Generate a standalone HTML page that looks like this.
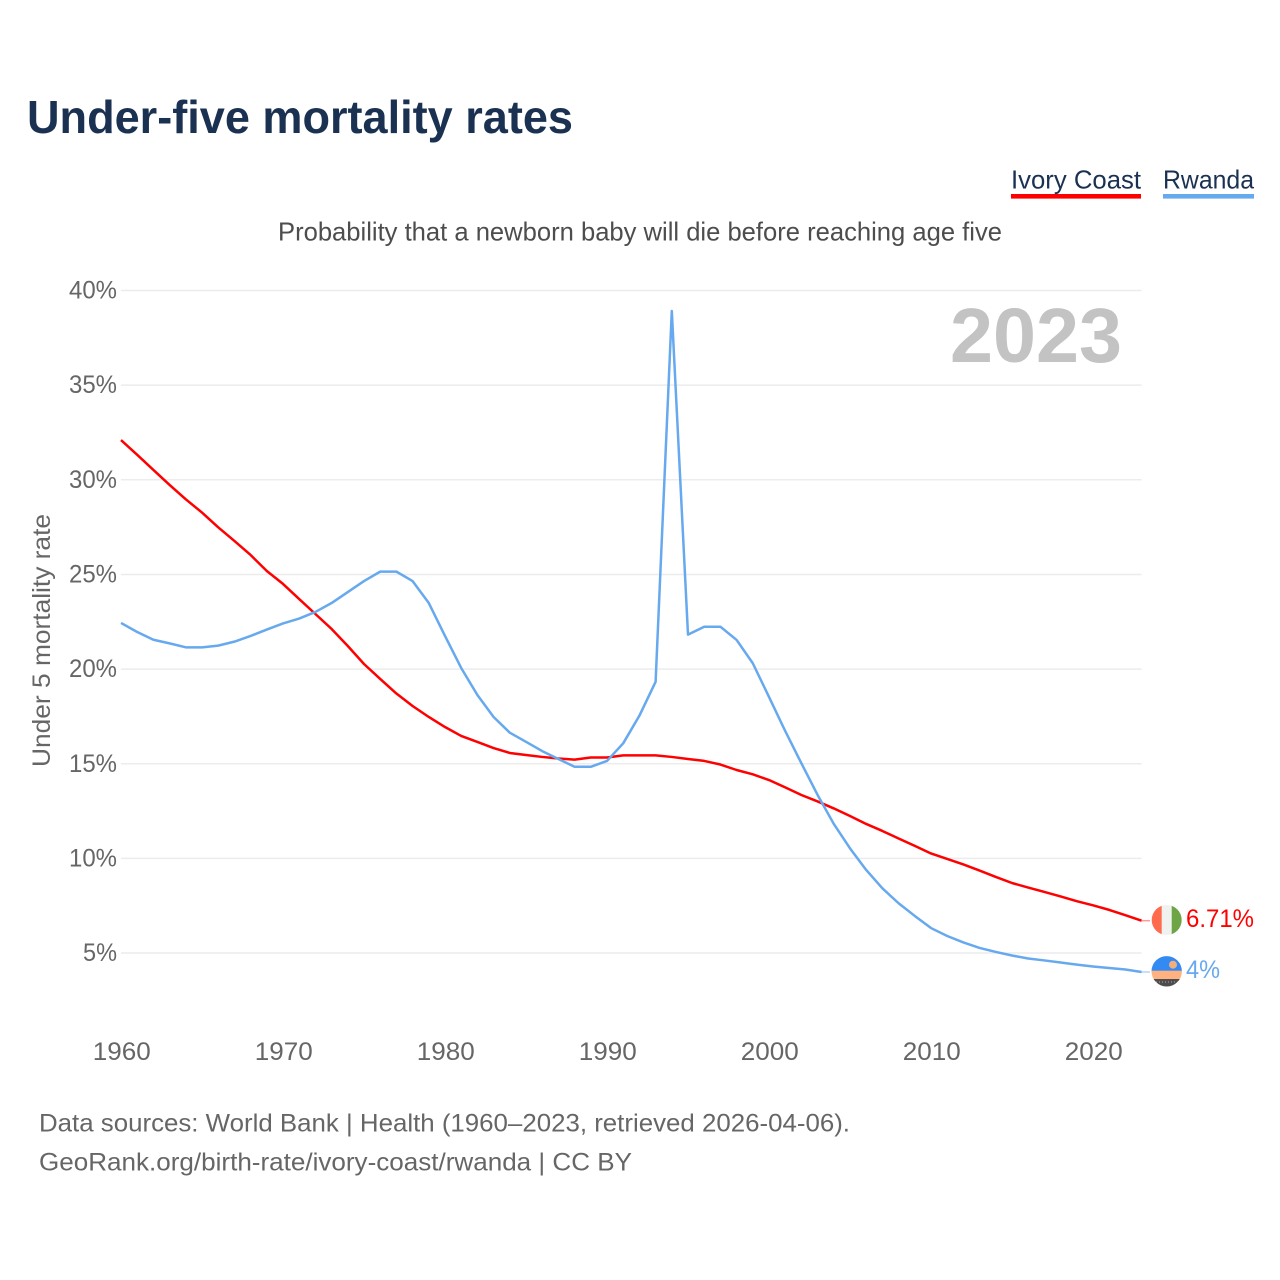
<!DOCTYPE html>
<html lang="en">
<head>
<meta charset="utf-8">
<title>Under-five mortality rates</title>
<style>
html,body{margin:0;padding:0;background:#fff;width:1280px;height:1280px;overflow:hidden}
svg{display:block}
text{font-family:"Liberation Sans",sans-serif}
</style>
</head>
<body>
<svg id="chart" xmlns="http://www.w3.org/2000/svg" width="1280" height="1280" viewBox="0 0 1280 1280">
  <rect width="1280" height="1280" fill="#fff"/>
  <text x="27" y="133" font-size="46" font-weight="700" fill="#1a3152" textLength="546" lengthAdjust="spacingAndGlyphs">Under-five mortality rates</text>

  <g>
    <g>
      <text x="1011" y="188.5" font-size="26" fill="#1a3152" textLength="130" lengthAdjust="spacingAndGlyphs">Ivory Coast</text>
      <rect x="1011" y="194" width="130" height="4.6" fill="#ff0000"/>
    </g>
    <g>
      <text x="1163" y="188.5" font-size="26" fill="#1a3152" textLength="91" lengthAdjust="spacingAndGlyphs">Rwanda</text>
      <rect x="1163" y="194" width="91" height="4.6" fill="#67a9ee"/>
    </g>
  </g>

  <text x="278" y="240.5" font-size="26" fill="#4d4d4d" textLength="724" lengthAdjust="spacingAndGlyphs">Probability that a newborn baby will die before reaching age five</text>

  <g id="grid"></g>
  <g id="yticks"></g>
  <g id="xticks"></g>

  <text transform="translate(50,640.5) rotate(-90)" text-anchor="middle" font-size="25" fill="#666666" textLength="253" lengthAdjust="spacingAndGlyphs">Under 5 mortality rate</text>

  <text x="950" y="362" font-size="77" font-weight="700" fill="#c3c3c3" textLength="172" lengthAdjust="spacingAndGlyphs">2023</text>

  <g id="series"></g>

  <g id="ivory-end">
    <clipPath id="clip-ci"><circle cx="1166.7" cy="920" r="15"/></clipPath>
    <g clip-path="url(#clip-ci)">
      <rect x="1151" y="904" width="11" height="32" fill="#ff6b4d"/>
      <rect x="1161.7" y="904" width="10" height="32" fill="#f0f2f0"/>
      <rect x="1171.7" y="904" width="11" height="32" fill="#6da544"/>
    </g>
    <text x="1186" y="927" font-size="25" fill="#ff0000" textLength="68" lengthAdjust="spacingAndGlyphs">6.71%</text>
  </g>
  <g id="rwanda-end">
    <clipPath id="clip-rw"><circle cx="1166.7" cy="971.3" r="15.2"/></clipPath>
    <g clip-path="url(#clip-rw)">
      <rect x="1151" y="955" width="32" height="16" fill="#338af3"/>
      <circle cx="1173" cy="964.7" r="4" fill="#f4ad7c"/>
      <rect x="1151" y="970.7" width="32" height="8.6" fill="#ffb27f"/>
      <rect x="1151" y="979" width="32" height="9" fill="#4d4d4d"/>
      <line x1="1153" y1="982" x2="1181" y2="982" stroke="#a9a9a9" stroke-width="1" stroke-dasharray="1 2"/>
    </g>
    <text x="1186" y="978" font-size="25" fill="#67a9ee" textLength="34" lengthAdjust="spacingAndGlyphs">4%</text>
  </g>

  <text x="39" y="1131.5" font-size="25" fill="#666666" textLength="811" lengthAdjust="spacingAndGlyphs">Data sources: World Bank | Health (1960–2023, retrieved 2026-04-06).</text>
  <text x="39" y="1170.5" font-size="25" fill="#666666" textLength="593" lengthAdjust="spacingAndGlyphs">GeoRank.org/birth-rate/ivory-coast/rwanda | CC BY</text>
</svg>
<script>
const startYear = 1960;
const yTickValues = [5, 10, 15, 20, 25, 30, 35, 40];
const xTickYears = [1960, 1970, 1980, 1990, 2000, 2010, 2020];
const ivoryCoast = [32.10,31.32,30.52,29.73,28.97,28.27,27.49,26.77,26.03,25.18,
  24.50,23.70,22.91,22.12,21.22,20.27,19.48,18.71,18.05,17.47,
  16.94,16.47,16.15,15.83,15.57,15.46,15.36,15.28,15.22,15.33,
  15.33,15.44,15.44,15.44,15.36,15.25,15.15,14.96,14.67,14.44,
  14.14,13.75,13.35,13.01,12.64,12.24,11.82,11.45,11.05,10.66,
  10.26,9.97,9.68,9.36,9.02,8.70,8.46,8.23,7.99,7.74,
  7.52,7.28,7.00,6.71];
const rwanda = [22.44,21.96,21.55,21.36,21.15,21.15,21.24,21.45,21.75,22.09,
  22.41,22.67,23.02,23.49,24.07,24.65,25.15,25.15,24.65,23.49,
  21.75,20.06,18.63,17.47,16.64,16.16,15.67,15.25,14.84,14.84,
  15.15,16.08,17.54,19.33,38.92,21.82,22.24,22.24,21.54,20.31,
  18.53,16.73,15.02,13.35,11.82,10.53,9.39,8.42,7.63,6.96,
  6.32,5.90,5.56,5.27,5.06,4.87,4.71,4.61,4.50,4.39,
  4.29,4.21,4.13,4.00];

const SVGNS = 'http://www.w3.org/2000/svg';
function xScale(year) { return 121 + (year - 1960) * 16.2; }
function yScale(v) { return 290.5 + (40 - v) * 18.93; }
function make(tag, parent) {
  const el = document.createElementNS(SVGNS, tag);
  parent.appendChild(el);
  return el;
}

const gridGroup = document.getElementById('grid');
const yGroup = document.getElementById('yticks');
const xGroup = document.getElementById('xticks');
const seriesGroup = document.getElementById('series');

yTickValues.forEach(function (v) {
  const line = make('line', gridGroup);
  
  
  line.setAttribute('x1', xScale(1960));
  line.setAttribute('x2', xScale(2023));
  line.setAttribute('y1', yScale(v));
  line.setAttribute('y2', yScale(v));
  line.setAttribute('stroke', '#ececec');
  line.setAttribute('stroke-width', '1.5');

  const label = make('text', yGroup);
  
  
  label.setAttribute('x', 117);
  label.setAttribute('y', yScale(v) + 8);
  label.setAttribute('text-anchor', 'end');
  label.setAttribute('font-size', '25');
  label.setAttribute('fill', '#666666');
  label.setAttribute('textLength', v < 10 ? '34' : '48');
  label.setAttribute('lengthAdjust', 'spacingAndGlyphs');
  label.textContent = v + '%';
});

xTickYears.forEach(function (year) {
  const label = make('text', xGroup);
  
  
  label.setAttribute('x', xScale(year) + 0.8);
  label.setAttribute('y', 1060);
  label.setAttribute('text-anchor', 'middle');
  label.setAttribute('font-size', '25');
  label.setAttribute('fill', '#666666');
  label.setAttribute('textLength', '58');
  label.setAttribute('lengthAdjust', 'spacingAndGlyphs');
  label.textContent = year;
});

function linePath(values) {
  return values.map(function (v, i) {
    return (i ? 'L' : 'M') + xScale(startYear + i).toFixed(2) + ' ' + yScale(v).toFixed(2);
  }).join(' ');
}

const ivoryLine = make('path', seriesGroup);


ivoryLine.setAttribute('d', linePath(ivoryCoast));
ivoryLine.setAttribute('fill', 'none');
ivoryLine.setAttribute('stroke', '#ff0000');
ivoryLine.setAttribute('stroke-width', '2.5');
ivoryLine.setAttribute('stroke-linejoin', 'round');

const rwandaLine = make('path', seriesGroup);


rwandaLine.setAttribute('d', linePath(rwanda));
rwandaLine.setAttribute('fill', 'none');
rwandaLine.setAttribute('stroke', '#67a9ee');
rwandaLine.setAttribute('stroke-width', '2.5');
rwandaLine.setAttribute('stroke-linejoin', 'round');

const ivoryLeader = make('line', seriesGroup);


ivoryLeader.setAttribute('x1', xScale(2023));
ivoryLeader.setAttribute('x2', 1150);
ivoryLeader.setAttribute('y1', yScale(ivoryCoast[ivoryCoast.length - 1]));
ivoryLeader.setAttribute('y2', yScale(ivoryCoast[ivoryCoast.length - 1]));
ivoryLeader.setAttribute('stroke', '#ff9a9a');
ivoryLeader.setAttribute('stroke-width', '1.5');

const rwandaLeader = make('line', seriesGroup);


rwandaLeader.setAttribute('x1', xScale(2023));
rwandaLeader.setAttribute('x2', 1150);
rwandaLeader.setAttribute('y1', yScale(rwanda[rwanda.length - 1]));
rwandaLeader.setAttribute('y2', yScale(rwanda[rwanda.length - 1]));
rwandaLeader.setAttribute('stroke', '#b5d4f6');
rwandaLeader.setAttribute('stroke-width', '1.5');
</script>
</body>
</html>
